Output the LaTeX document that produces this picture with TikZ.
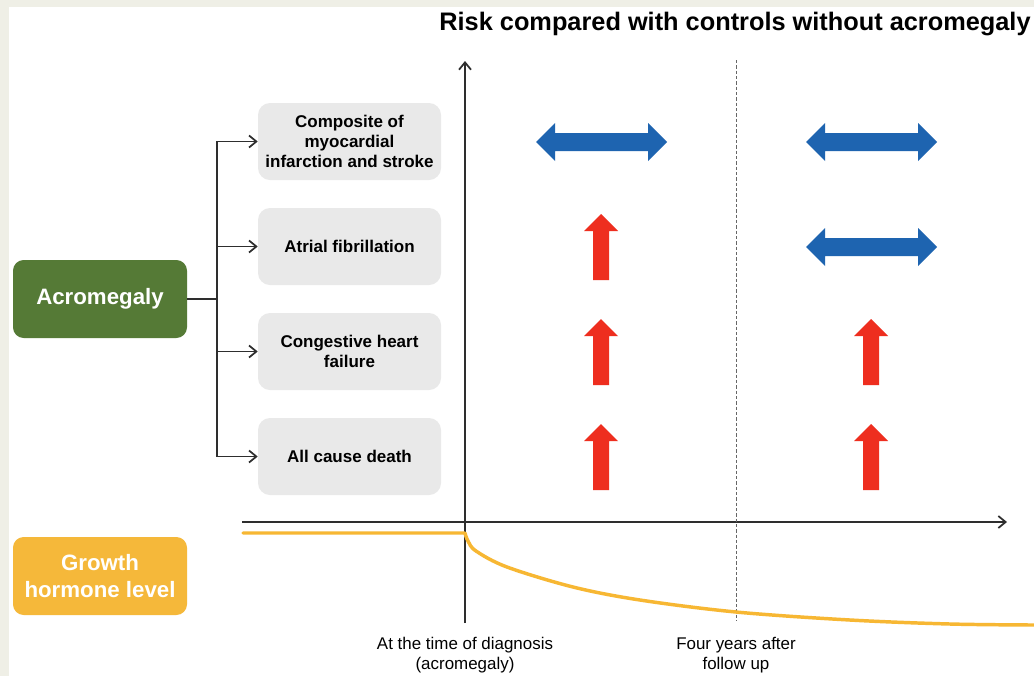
\documentclass[tikz,border=0pt]{standalone}
\usepackage{fontspec}
\setmainfont{Liberation Sans}
\usetikzlibrary{arrows.meta}
\definecolor{pagebg}{HTML}{EFEFE6}
\definecolor{boxgray}{HTML}{E9E9E9}
\definecolor{acrogreen}{HTML}{557A36}
\definecolor{ghyellow}{HTML}{F5B83A}
\definecolor{curveyellow}{HTML}{F7B733}
\definecolor{riskblue}{HTML}{1E64B0}
\definecolor{riskred}{HTML}{EE2E1F}
\definecolor{axisgray}{HTML}{2E2E2E}
\tikzset{
  outcome/.style={fill=boxgray, rounded corners=9pt, minimum width=137.25pt, minimum height=57.75pt,
    align=center, font=\fontsize{12.75}{15}\selectfont\bfseries, inner sep=0pt},
  sidebox/.style={rounded corners=8pt, minimum width=130.5pt, minimum height=58.5pt,
    align=center, text=white, font=\fontsize{16.7}{20}\selectfont\bfseries, inner sep=0pt},
  axislabel/.style={align=center, font=\fontsize{12.7}{15}\selectfont, inner sep=0pt},
  conn/.style={draw=axisgray, line width=1.2pt},
  barb/.style={-{Straight Barb[length=5.5pt,width=9pt,line width=1.3pt]}},
  pics/bothways/.style={code={
    \fill[riskblue] (-65.5,0) -- (-46.5,-19) -- (-46.5,-9) -- (46.5,-9) -- (46.5,-19) -- (65.5,0)
      -- (46.5,19) -- (46.5,9) -- (-46.5,9) -- (-46.5,19) -- cycle;}},
  pics/upward/.style={code={
    \fill[riskred] (0,-33) -- (17,-16) -- (8,-16) -- (8,33) -- (-8,33) -- (-8,-16) -- (-17,-16) -- cycle;}}
}
\begin{document}
\begin{tikzpicture}[x=0.75pt,y=-0.75pt]
\useasboundingbox (0,0) rectangle (1034,676);
\fill[pagebg] (0,0) rectangle (1034,676);
\fill[white] (9,7) rectangle (1034,676);

% title
\node[anchor=base, font=\fontsize{19}{22}\selectfont\bfseries, inner sep=0pt] (title) at (735,30)
  {Risk compared with controls without acromegaly};

% axes
\coordinate (ybot) at (465,623);
\coordinate (ytop) at (465,61);
\coordinate (xleft) at (242,522);
\coordinate (xright) at (1007,522);
\coordinate (dtop) at (736,60);
\coordinate (dbot) at (736,621);
\draw[conn, barb] (ybot) -- (ytop);
\draw[conn, barb] (xleft) -- (xright);
\draw[draw=gray!80!black, line width=0.7pt, dash pattern=on 2.5pt off 1.5pt] (dtop) -- (dbot);

% growth hormone curve
\draw[curveyellow, line width=2.6pt, line cap=round]
  (243,533) -- (465,533)
  plot[smooth, tension=0.55] coordinates {(465,533) (468,541) (476,551) (507,567) (573,587) (640,600) (736,612) (850,620) (950,624) (1034,625)};

% left boxes
\node[sidebox, fill=acrogreen] (acro) at (100,299) {Acromegaly};
\node[sidebox, fill=ghyellow] (gh) at (100,576) {Growth\\hormone level};

% outcome boxes
\node[outcome] (b1) at (349.5,141.5) {Composite of\\myocardial\\infarction and stroke};
\node[outcome] (b2) at (349.5,246.5) {Atrial fibrillation};
\node[outcome] (b3) at (349.5,351.5) {Congestive heart\\failure};
\node[outcome] (b4) at (349.5,456.5) {All cause death};

% connectors
\coordinate (trunk) at (217,299);
\draw[conn] (acro.east) -- (trunk);
\draw[conn, barb] (trunk) |- (b1.west);
\draw[conn, barb] (trunk) |- (b2.west);
\draw[conn, barb] (trunk) |- (b3.west);
\draw[conn, barb] (trunk) |- (b4.west);

% risk markers
\pic at (601.5,142) {bothways};
\pic at (871.5,142) {bothways};
\pic at (601,247) {upward};
\pic at (871.5,247) {bothways};
\pic at (601,352) {upward};
\pic at (871,352) {upward};
\pic at (601,457) {upward};
\pic at (871,457) {upward};

% axis labels
\node[axislabel] (t0) at (465,655) {At the time of diagnosis\\(acromegaly)};
\node[axislabel] (t4) at (736,655) {Four years after\\follow up};
\end{tikzpicture}
\end{document}
